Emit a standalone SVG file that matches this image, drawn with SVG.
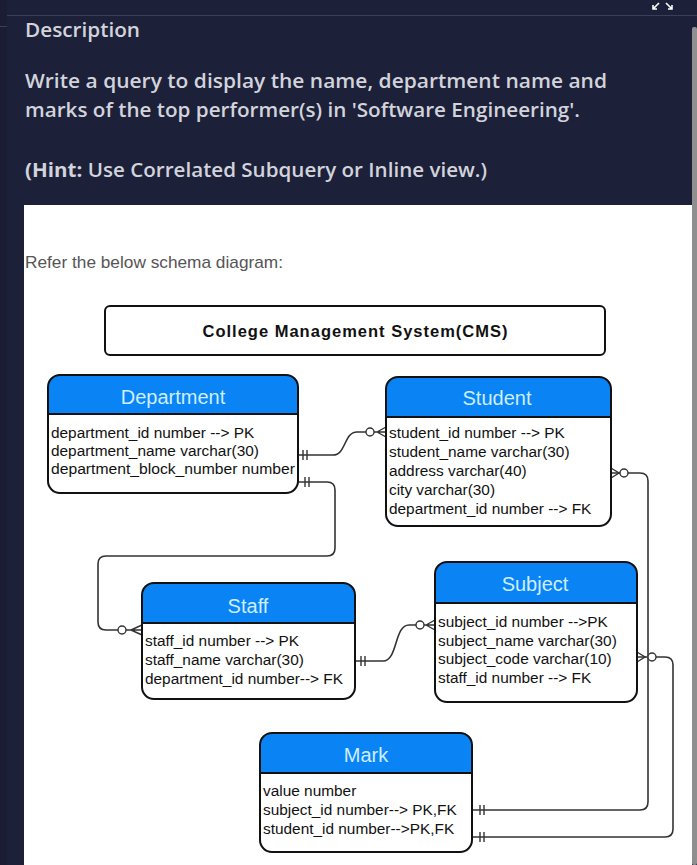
<svg xmlns="http://www.w3.org/2000/svg" width="697" height="865" viewBox="0 0 697 865">
<style>
.desc{font-family:"Open Sans","Liberation Sans",sans-serif;font-size:19px;fill:#d2d3db;font-weight:600}
.box{fill:none;stroke:#111;stroke-width:2}
.hdr{fill:#0a84f5}
.ttl{font-family:"Liberation Sans",Arial,sans-serif;font-size:20px;fill:#cdeeff;text-anchor:middle}
.row{font-family:"Liberation Sans",Arial,sans-serif;font-size:15.4px;fill:#111}
.ln{fill:none;stroke:#333;stroke-width:1.6}
.mk{fill:none;stroke:#333;stroke-width:1.4}
.cir{fill:#fff;stroke:#333;stroke-width:1.4}
</style>
<rect x="0" y="0" width="697" height="865" fill="#1c2039"/>
<rect x="0" y="0" width="7" height="865" fill="#1a1d34"/>
<line x1="7" y1="15.5" x2="697" y2="15.5" stroke="#3a3e57" stroke-width="1"/>
<line x1="0" y1="26.5" x2="7" y2="26.5" stroke="#3a3e57" stroke-width="1"/>
<path d="M659,3 L653,9 M653,5 V9 H657 M666,3 L672,9 M672,5 V9 H668" fill="none" stroke="#fff" stroke-width="1.6"/>
<rect x="692" y="27" width="5" height="838" rx="2" fill="#8f8f8f"/>
<text class="desc" x="25" y="37" textLength="115" lengthAdjust="spacingAndGlyphs" fill="#c9cad3">Description</text>
<text class="desc" x="25" y="88" textLength="582" lengthAdjust="spacingAndGlyphs" font-weight="500">Write a query to display the name, department name and</text>
<text class="desc" x="25" y="117" textLength="555" lengthAdjust="spacingAndGlyphs" font-weight="500">marks of the top performer(s) in 'Software Engineering'.</text>
<text class="desc" x="25" y="177" textLength="462" lengthAdjust="spacingAndGlyphs" font-weight="500"><tspan font-weight="700">(Hint:</tspan> Use Correlated Subquery or Inline view.)</text>
<rect x="24" y="205" width="668" height="660" fill="#fff"/>
<text x="25" y="268" font-family="Liberation Sans,Arial,sans-serif" font-size="17" fill="#555" textLength="258" lengthAdjust="spacingAndGlyphs">Refer the below schema diagram:</text>
<g id="title">
<rect x="105" y="306" width="500" height="49" rx="5" fill="#fff" stroke="#111" stroke-width="2"/>
<text x="355" y="337" font-family="Liberation Sans,Arial,sans-serif" font-size="16.5" font-weight="700" text-anchor="middle" fill="#111" textLength="305" lengthAdjust="spacing">College Management System(CMS)</text>
</g>
<g id="connectors">
<path class="ln" d="M298,455 H333 C346,455 344,432 357,432 H366"/>
<circle class="cir" cx="370" cy="432" r="4"/>
<path class="mk" d="M374,432 H386 M377,432 L386,427 M377,432 L386,437"/>
<path class="mk" d="M303,450 V460 M307,450 V460"/>
<path class="ln" d="M298,482 H327 Q335,482 335,490 V548 Q335,556 327,556 H106 Q98,556 98,564 V622 Q98,630 106,630 H118"/>
<circle class="cir" cx="122" cy="630" r="4"/>
<path class="mk" d="M126,630 H142 M131,630 L142,625 M131,630 L142,635"/>
<path class="mk" d="M305,477 V487 M309,477 V487"/>
<path class="ln" d="M355,661 H383 C398,661 394,625 409,625 H416"/>
<circle class="cir" cx="420" cy="625" r="4"/>
<path class="mk" d="M424,625 H435 M426,625 L435,620 M426,625 L435,630"/>
<path class="mk" d="M361,656 V666 M365,656 V666"/>
<path class="ln" d="M611,473 H620 M628,473 H640 Q648,473 648,481 V802 Q648,810 640,810 H472"/>
<path class="mk" d="M611,468 L619,473 L611,478"/>
<circle class="cir" cx="624" cy="473" r="4"/>
<path class="mk" d="M480,805 V815 M484,805 V815"/>
<path class="ln" d="M637,657 H647 M656,657 H665 Q673,657 673,665 V829 Q673,837 665,837 H472"/>
<path class="mk" d="M637,652 L645,657 L637,662"/>
<circle class="cir" cx="652" cy="657" r="4"/>
<path class="mk" d="M480,832 V842 M484,832 V842"/>
</g>
<g id="department">
<rect x="48" y="375" width="250" height="118" rx="12" fill="#fff"/>
<path class="hdr" d="M48,414 V387 Q48,375 60,375 H286 Q298,375 298,387 V414 Z"/>
<line x1="48" y1="414" x2="298" y2="414" stroke="#111" stroke-width="2"/>
<rect class="box" x="48" y="375" width="250" height="118" rx="12"/>
<text class="ttl" x="173" y="404">Department</text>
<text class="row" x="51" y="438">department_id number --&gt; PK</text>
<text class="row" x="51" y="456">department_name varchar(30)</text>
<text class="row" x="51" y="474" textLength="244" lengthAdjust="spacingAndGlyphs">department_block_number number</text>
</g>
<g id="student">
<rect x="386" y="377" width="225" height="149" rx="12" fill="#fff"/>
<path class="hdr" d="M386,417 V389 Q386,377 398,377 H599 Q611,377 611,389 V417 Z"/>
<line x1="386" y1="417" x2="611" y2="417" stroke="#111" stroke-width="2"/>
<rect class="box" x="386" y="377" width="225" height="149" rx="12"/>
<text class="ttl" x="497" y="405" font-size="17.5">Student</text>
<text class="row" x="389" y="438">student_id number --&gt; PK</text>
<text class="row" x="389" y="457">student_name varchar(30)</text>
<text class="row" x="389" y="476">address varchar(40)</text>
<text class="row" x="389" y="495">city varchar(30)</text>
<text class="row" x="389" y="514">department_id number --&gt; FK</text>
</g>
<g id="staff">
<rect x="142" y="583" width="213" height="116" rx="12" fill="#fff"/>
<path class="hdr" d="M142,623 V595 Q142,583 154,583 H343 Q355,583 355,595 V623 Z"/>
<line x1="142" y1="623" x2="355" y2="623" stroke="#111" stroke-width="2"/>
<rect class="box" x="142" y="583" width="213" height="116" rx="12"/>
<text class="ttl" x="248" y="613">Staff</text>
<text class="row" x="145" y="646">staff_id number --&gt; PK</text>
<text class="row" x="145" y="665">staff_name varchar(30)</text>
<text class="row" x="145" y="684">department_id number--&gt; FK</text>
</g>
<g id="subject">
<rect x="435" y="562" width="202" height="140" rx="12" fill="#fff"/>
<path class="hdr" d="M435,603 V574 Q435,562 447,562 H625 Q637,562 637,574 V603 Z"/>
<line x1="435" y1="603" x2="637" y2="603" stroke="#111" stroke-width="2"/>
<rect class="box" x="435" y="562" width="202" height="140" rx="12"/>
<text class="ttl" x="535" y="591">Subject</text>
<text class="row" x="438" y="627">subject_id number --&gt;PK</text>
<text class="row" x="438" y="646">subject_name varchar(30)</text>
<text class="row" x="438" y="664">subject_code varchar(10)</text>
<text class="row" x="438" y="683">staff_id number --&gt; FK</text>
</g>
<g id="mark">
<rect x="260" y="733" width="212" height="119" rx="12" fill="#fff"/>
<path class="hdr" d="M260,773 V745 Q260,733 272,733 H460 Q472,733 472,745 V773 Z"/>
<line x1="260" y1="773" x2="472" y2="773" stroke="#111" stroke-width="2"/>
<rect class="box" x="260" y="733" width="212" height="119" rx="12"/>
<text class="ttl" x="366" y="762">Mark</text>
<text class="row" x="263" y="796">value number</text>
<text class="row" x="263" y="815">subject_id number--&gt; PK,FK</text>
<text class="row" x="263" y="834">student_id number--&gt;PK,FK</text>
</g>
</svg>
